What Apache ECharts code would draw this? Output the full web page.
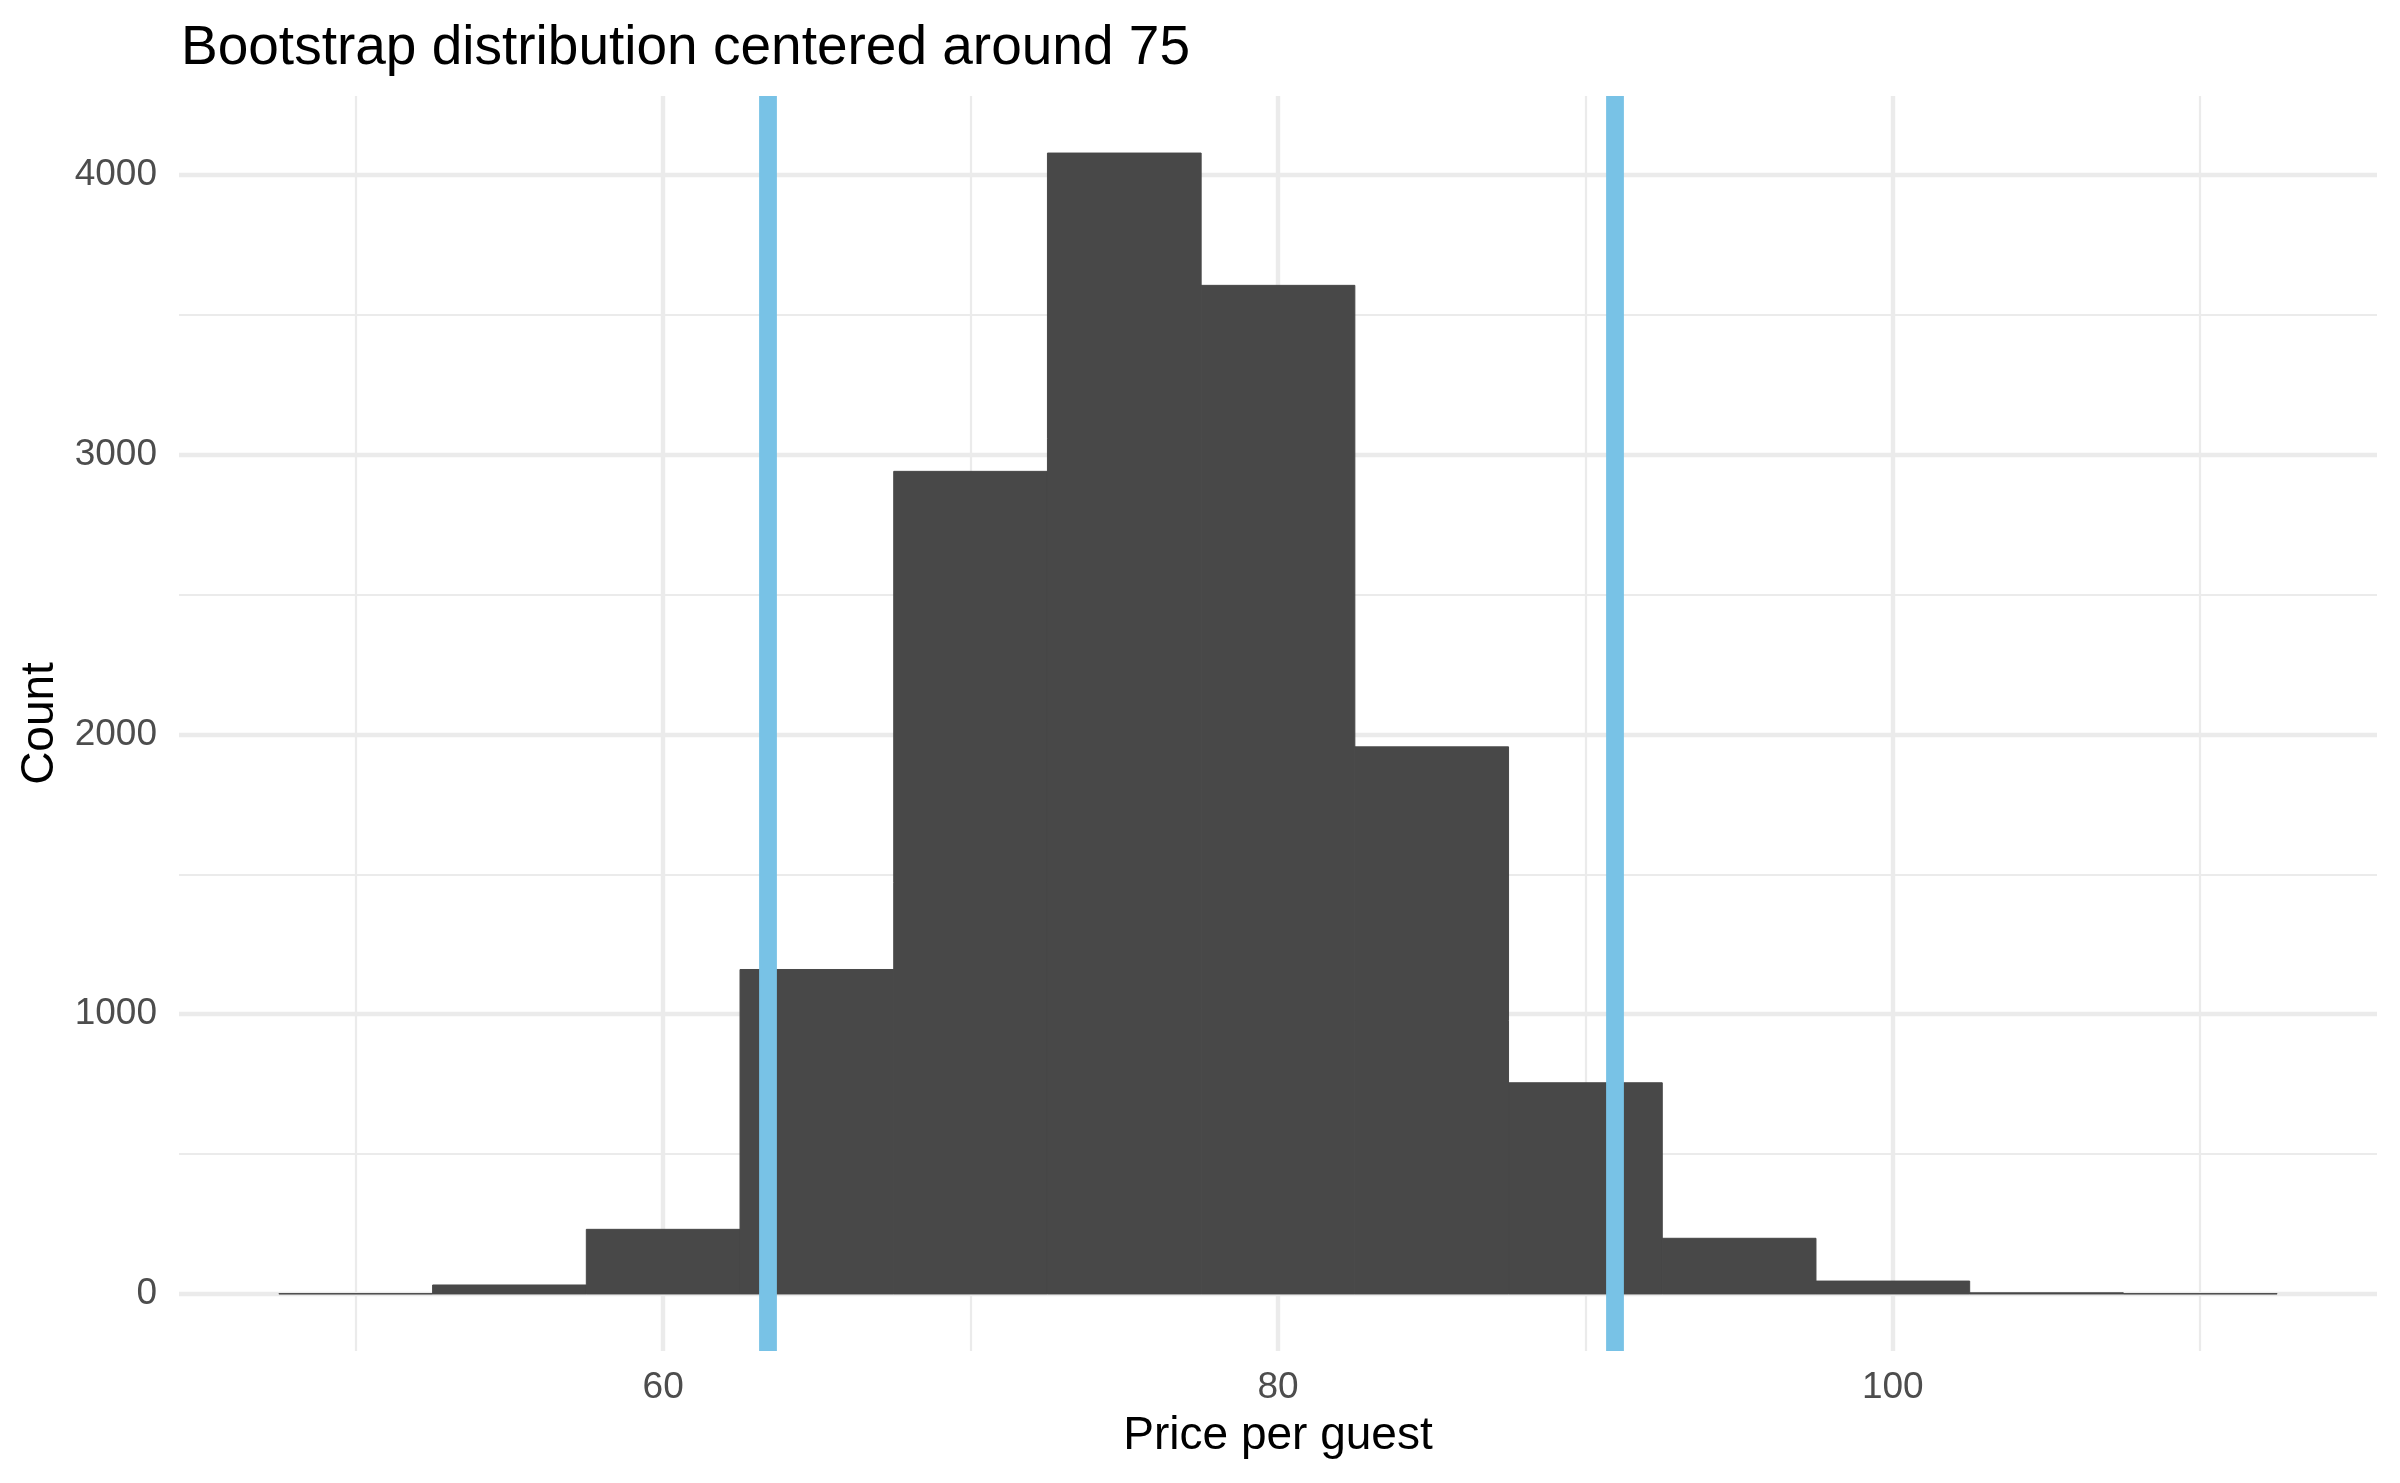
<!DOCTYPE html>
<html>
<head>
<meta charset="utf-8">
<title>Bootstrap distribution</title>
<script src="https://cdn.jsdelivr.net/npm/echarts@6/dist/echarts.min.js"></script>
<style>
    html, body { margin: 0; padding: 0; background: #fff; }
    #chart { width: 2400px; height: 1483px; }
</style>
</head>
<body>
<div id="chart"></div>
<script>
// histogram bins (centre of each 5-wide bin) and counts
var binCenters = [50, 55, 60, 65, 70, 75, 80, 85, 90, 95, 100, 105, 110];
var binCounts = [1, 32, 231, 1160, 2941, 4079, 3606, 1956, 755, 199, 46, 4, 1];
var binWidth = 5;

// percentile interval lines
var ciBounds = [63.4, 90.97];

// axis breaks
var xMajor = [60, 80, 100];
var xMinor = [50, 70, 90, 110];
var yMajor = [0, 1000, 2000, 3000, 4000];
var yMinor = [500, 1500, 2500, 3500];

var xRange = [44.25, 115.75];
var yRange = [-204, 4283];

var histData = [];
for (var i = 0; i < binCenters.length; i++) {
    histData.push([binCenters[i], binCounts[i]]);
}

var fontName = '"Liberation Sans", Arial, Helvetica, sans-serif';

//画直方图的矩形
function renderBar(params, api) {
    var x = api.value(0);
    var c = api.value(1);
    var p0 = api.coord([x - binWidth / 2, c]);
    var p1 = api.coord([x + binWidth / 2, 0]);
    return {
        type: 'rect',
        shape: { x: p0[0], y: p0[1], width: p1[0] - p0[0], height: p1[1] - p0[1] },
        style: { fill: '#484848', stroke: '#484848', lineWidth: 1 }
    };
}

var myChart = echarts.init(document.getElementById('chart'));

var option = {
    animation: false,
    backgroundColor: '#ffffff',
    title: {
        text: 'Bootstrap distribution centered around 75',
        left: 176,
        top: 16,
        textStyle: { fontFamily: fontName, fontSize: 55, fontWeight: 'normal', color: '#000' }
    },
    grid: { left: 179, right: 23, top: 96, bottom: 132 },
    xAxis: [{
        type: 'value',
        min: xRange[0],
        max: xRange[1],
        name: 'Price per guest',
        nameLocation: 'middle',
        nameGap: 62,
        nameTextStyle: { fontFamily: fontName, fontSize: 46, color: '#000' },
        axisLine: { show: false, onZero: false },
        axisTick: { show: false, customValues: xMajor },
        axisLabel: {
            customValues: xMajor,
            margin: 18,
            fontFamily: fontName, fontSize: 37, color: '#4D4D4D'
        },
        splitLine: { show: true, lineStyle: { color: '#EBEBEB', width: 4.4 } }
    }, {
        type: 'value',
        min: xRange[0],
        max: xRange[1],
        axisLine: { show: false, onZero: false },
        axisTick: { show: false, customValues: xMinor },
        axisLabel: { show: false, customValues: xMinor },
        splitLine: { show: true, lineStyle: { color: '#EBEBEB', width: 2.2 } }
    }],
    yAxis: [{
        type: 'value',
        min: yRange[0],
        max: yRange[1],
        name: 'Count',
        nameLocation: 'middle',
        nameGap: 108,
        nameTextStyle: { fontFamily: fontName, fontSize: 46, color: '#000' },
        axisLine: { show: false },
        axisTick: { show: false, customValues: yMajor },
        axisLabel: {
            customValues: yMajor,
            margin: 22,
            formatter: function (v) { return String(v); },
            fontFamily: fontName, fontSize: 37, color: '#4D4D4D'
        },
        splitLine: { show: true, lineStyle: { color: '#EBEBEB', width: 4.4 } }
    }, {
        type: 'value',
        min: yRange[0],
        max: yRange[1],
        axisLine: { show: false },
        axisTick: { show: false, customValues: yMinor },
        axisLabel: { show: false, customValues: yMinor },
        splitLine: { show: true, lineStyle: { color: '#EBEBEB', width: 2.2 } }
    }],
    series: [{
        type: 'custom',
        xAxisIndex: 0,
        yAxisIndex: 0,
        renderItem: renderBar,
        encode: { x: 0, y: 1 },
        data: histData,
        clip: true,
        z: 2,
        markLine: {
            silent: true,
            symbol: ['none', 'none'],
            label: { show: false },
            lineStyle: { color: '#78C2E6', width: 17.8, type: 'solid' },
            data: ciBounds.map(function (v) { return { xAxis: v }; })
        }
    }]
};

myChart.setOption(option);
</script>
</body>
</html>
